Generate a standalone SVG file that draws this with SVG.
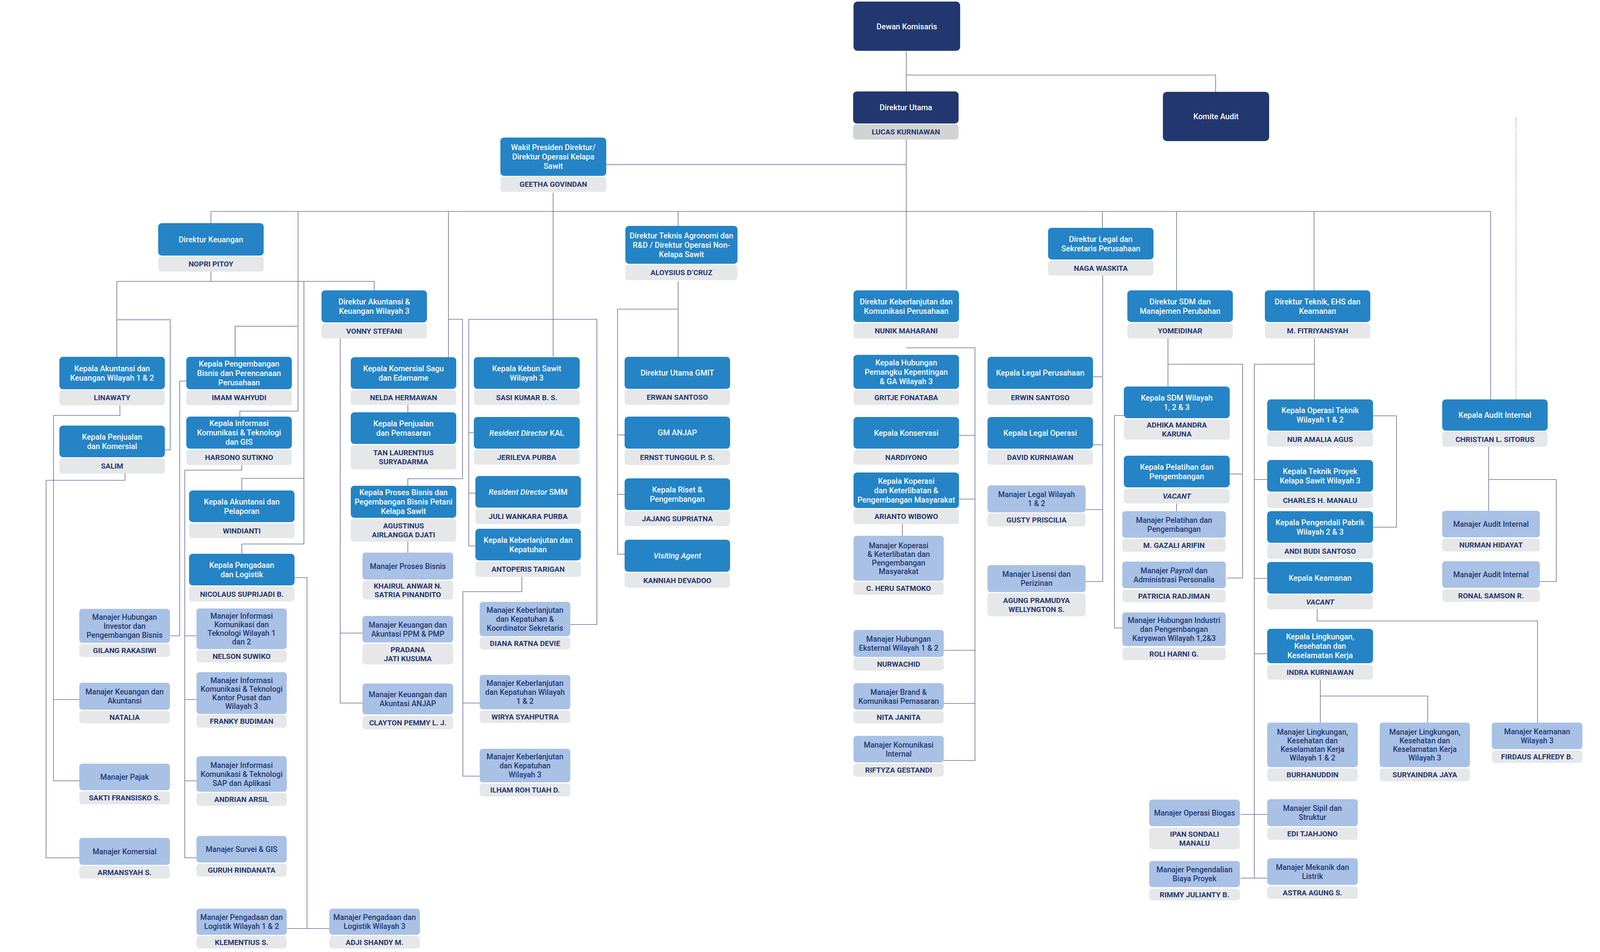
<svg xmlns="http://www.w3.org/2000/svg" width="4171" height="2436" viewBox="0 0 4171 2436">
<style>
.nv{fill:#223770}.bl{fill:#2484C6}.lb{fill:#A9C1E5}.nm{fill:#E6E7E9}.nm2{fill:#D1D3D4}
text{font-family:Roboto,"Liberation Sans",sans-serif;text-anchor:middle}
.w{fill:#fff;font-size:20px;font-weight:500}
.d{fill:#223770;font-size:19.5px;font-weight:500}
.n{fill:#223770;font-size:19px;font-weight:700}
.i{font-style:italic}
.c{fill:none;stroke:#6E6E98;stroke-width:1.6}
.c2{fill:none;stroke:#B2B3CF;stroke-width:3.5}
.dt{fill:none;stroke:#6E6E98;stroke-width:1.6;stroke-dasharray:2 3}
</style>
<rect width="4171" height="2436" fill="#fff"/>
<g id="connectors">
<path class="c" d="M2320,131V234M2320,192H3112V235M2320,357V741M540,541H3817M540,541V571"/>
<path class="c2" d="M1552,421H2320"/>
<path class="c" d="M763,541V1052H614V1066"/>
<path class="c2" d="M763,835H602V913"/>
<path class="c" d="M1148,541V914M1148,817H1184V1225H1044V1243"/>
<path class="c" d="M1416,493V913"/>
<path class="c" d="M1736,541V578M1736,719V913M1736,791H1581V1418H1599M1581,1265H1599"/>
<path class="c2" d="M1581,1113H1599"/>
<path class="c" d="M2822,541V583M3012,541V743M3364,541V743M3816,541V1022"/>
<path class="dt" d="M3881,300V1022"/>
<path class="c" d="M540,695V720M299,720H958V743M299,720V913"/>
<path class="c2" d="M299,818H436V1151H422"/>
<path class="c" d="M778,720V1392H619V1417M778,1224H619V1255"/>
<path class="c" d="M307,1037V1063H137V1998H203M137,1790H203"/>
<path class="c" d="M320,1212V1229H118V2195H203"/>
<path class="c" d="M477,975H460V1627H435"/>
<path class="c" d="M619,1190V1203H473V2195H503M473,1627H503M473,1790H503M473,1998H503"/>
<path class="c" d="M754,1478H786V2376M735,2376H843"/>
<path class="c" d="M871,866V1799H928M871,1620H928"/>
<path class="c2" d="M1044,1036V1055"/>
<path class="c" d="M1044,1386V1414"/>
<path class="c" d="M1213,1107H1200V817H1528V1598H1460M1200,1107V1397H1217M1200,1262H1217"/>
<path class="c" d="M1336,1476V1514H1185V1986H1228M1185,1799H1228"/>
<path class="c" d="M2320,890H2496V1946H2416M2455,1114H2496M2455,1277H2496M2416,1664H2496M2416,1800H2496"/>
<path class="c" d="M2310,1341V1371"/>
<path class="c" d="M2823,705V1488H2779M2798,1138H2823M2779,1304H2823"/>
<path class="c2" d="M2798,964H2823"/>
<path class="c" d="M2990,866V989M2990,932H3181V1479H3141M2877,1063H2853V1607H2873M3012,1288V1308"/>
<path class="c2" d="M3148,1213H3181"/>
<path class="c" d="M3365,866V1022M3211,932H3365M3211,932V2247H3176M3211,1227H3244M3211,1480H3244M3211,1673H3244M3176,2084H3244M3211,2247H3244"/>
<path class="c" d="M3515,1064H3575V1349H3515"/>
<path class="c" d="M3372,1559V1589H3936V1849M3380,1739V1849M3380,1781H3655V1849"/>
<path class="c" d="M3811,1143V1307M3811,1227H3984V1488H3942"/>
</g>

<g id="dewan-komisaris"><rect class="nv" x="2185" y="4" width="273" height="126" rx="10"/><text class="w" x="2321.5" y="75" font-size="21">Dewan Komisaris</text></g>
<g id="direktur-utama"><rect class="nv" x="2184" y="234" width="270" height="82" rx="9"/><text class="w" x="2319" y="282">Direktur Utama</text><rect class="nm2" x="2184" y="318" width="270" height="39" rx="8"/><text class="n" x="2319" y="344">LUCAS KURNIAWAN</text></g>
<g id="komite-audit"><rect class="nv" x="2977" y="235" width="272" height="126" rx="10"/><text class="w" x="3113" y="305" font-size="21">Komite Audit</text></g>

<g id="wakil-presiden"><rect class="bl" x="1281" y="352" width="271" height="98" rx="9"/><text class="w"><tspan x="1416.5" y="384">Wakil Presiden Direktur/</tspan><tspan x="1416.5" y="408">Direktur Operasi Kelapa</tspan><tspan x="1416.5" y="432">Sawit</tspan></text><rect class="nm" x="1281" y="452" width="271" height="39" rx="8"/><text class="n" x="1416.5" y="478">GEETHA GOVINDAN</text></g>

<g id="direktur-keuangan"><rect class="bl" x="405" y="571" width="270" height="83" rx="9"/><text class="w" x="540" y="620">Direktur Keuangan</text><rect class="nm" x="405" y="656" width="270" height="39" rx="8"/><text class="n" x="540" y="682">NOPRI PITOY</text></g>
<g id="kepala-akuntansi-w12"><rect class="bl" x="152" y="913" width="270" height="83" rx="9"/><text class="w"><tspan x="287" y="950">Kepala Akuntansi dan</tspan><tspan x="287" y="974">Keuangan Wilayah 1 &amp; 2</tspan></text><rect class="nm" x="152" y="998" width="270" height="39" rx="8"/><text class="n" x="287" y="1024">LINAWATY</text></g>
<g id="kepala-pengembangan-bisnis"><rect class="bl" x="477" y="913" width="270" height="83" rx="9"/><text class="w"><tspan x="612" y="938">Kepala Pengembangan</tspan><tspan x="612" y="962">Bisnis dan Perencanaan</tspan><tspan x="612" y="986">Perusahaan</tspan></text><rect class="nm" x="477" y="998" width="270" height="39" rx="8"/><text class="n" x="612" y="1024">IMAM WAHYUDI</text></g>
<g id="kepala-penjualan-komersial"><rect class="bl" x="152" y="1089" width="270" height="81" rx="9"/><text class="w"><tspan x="287" y="1125">Kepala Penjualan</tspan><tspan x="287" y="1149">dan Komersial</tspan></text><rect class="nm" x="152" y="1172" width="270" height="40" rx="8"/><text class="n" x="287" y="1199">SALIM</text></g>
<g id="kepala-ict-gis"><rect class="bl" x="477" y="1066" width="270" height="82" rx="9"/><text class="w"><tspan x="612" y="1090">Kepala Informasi</tspan><tspan x="612" y="1114">Komunikasi &amp; Teknologi</tspan><tspan x="612" y="1138">dan GIS</tspan></text><rect class="nm" x="477" y="1151" width="270" height="39" rx="8"/><text class="n" x="612" y="1177">HARSONO SUTIKNO</text></g>
<g id="kepala-akuntansi-pelaporan"><rect class="bl" x="484" y="1255" width="270" height="81" rx="9"/><text class="w"><tspan x="619" y="1291">Kepala Akuntansi dan</tspan><tspan x="619" y="1315">Pelaporan</tspan></text><rect class="nm" x="484" y="1339" width="270" height="38" rx="8"/><text class="n" x="619" y="1365">WINDIANTI</text></g>
<g id="kepala-pengadaan"><rect class="bl" x="484" y="1417" width="270" height="81" rx="9"/><text class="w"><tspan x="619" y="1453">Kepala Pengadaan</tspan><tspan x="619" y="1477">dan Logistik</tspan></text><rect class="nm" x="484" y="1501" width="270" height="38" rx="8"/><text class="n" x="619" y="1527">NICOLAUS SUPRIJADI B.</text></g>

<g id="manajer-hubungan-investor"><rect class="lb" x="203" y="1558" width="232" height="87" rx="8"/><text class="d"><tspan x="319" y="1585.5">Manajer Hubungan</tspan><tspan x="319" y="1608.5">Investor dan</tspan><tspan x="319" y="1631.5">Pengembangan Bisnis</tspan></text><rect class="nm" x="203" y="1648" width="232" height="33" rx="8"/><text class="n" x="319" y="1671">GILANG RAKASIWI</text></g>
<g id="manajer-keuangan-akuntansi"><rect class="lb" x="203" y="1747" width="232" height="69" rx="8"/><text class="d"><tspan x="319" y="1777">Manajer Keuangan dan</tspan><tspan x="319" y="1800">Akuntansi</tspan></text><rect class="nm" x="203" y="1819" width="232" height="32" rx="8"/><text class="n" x="319" y="1842">NATALIA</text></g>
<g id="manajer-pajak"><rect class="lb" x="203" y="1954" width="232" height="68" rx="8"/><text class="d" x="319" y="1995">Manajer Pajak</text><rect class="nm" x="203" y="2025" width="232" height="33" rx="8"/><text class="n" x="319" y="2048">SAKTI FRANSISKO S.</text></g>
<g id="manajer-komersial"><rect class="lb" x="203" y="2144" width="232" height="69" rx="8"/><text class="d" x="319" y="2185.5">Manajer Komersial</text><rect class="nm" x="203" y="2216" width="232" height="32" rx="8"/><text class="n" x="319" y="2239">ARMANSYAH S.</text></g>
<g id="manajer-ict-w12"><rect class="lb" x="503" y="1557" width="231" height="104" rx="8"/><text class="d"><tspan x="618.5" y="1583">Manajer Informasi</tspan><tspan x="618.5" y="1605">Komunikasi dan</tspan><tspan x="618.5" y="1627">Teknologi  Wilayah 1</tspan><tspan x="618.5" y="1649">dan 2</tspan></text><rect class="nm" x="503" y="1663" width="231" height="32" rx="8"/><text class="n" x="618.5" y="1686">NELSON SUWIKO</text></g>
<g id="manajer-ict-kp"><rect class="lb" x="503" y="1720" width="231" height="107" rx="8"/><text class="d"><tspan x="618.5" y="1747.5">Manajer Informasi</tspan><tspan x="618.5" y="1769.5">Komunikasi &amp; Teknologi</tspan><tspan x="618.5" y="1791.5">Kantor Pusat dan</tspan><tspan x="618.5" y="1813.5">Wilayah 3</tspan></text><rect class="nm" x="503" y="1829" width="231" height="33" rx="8"/><text class="n" x="618.5" y="1852">FRANKY BUDIMAN</text></g>
<g id="manajer-ict-sap"><rect class="lb" x="503" y="1935" width="231" height="91" rx="8"/><text class="d"><tspan x="618.5" y="1964.5">Manajer Informasi</tspan><tspan x="618.5" y="1987.5">Komunikasi &amp; Teknologi</tspan><tspan x="618.5" y="2010.5">SAP dan Aplikasi</tspan></text><rect class="nm" x="503" y="2029" width="231" height="33" rx="8"/><text class="n" x="618.5" y="2052">ANDRIAN ARSIL</text></g>
<g id="manajer-survei-gis"><rect class="lb" x="503" y="2139" width="231" height="68" rx="8"/><text class="d" x="618.5" y="2180">Manajer Survei &amp; GIS</text><rect class="nm" x="503" y="2210" width="231" height="33" rx="8"/><text class="n" x="618.5" y="2233">GURUH RINDANATA</text></g>
<g id="manajer-pengadaan-w12"><rect class="lb" x="503" y="2325" width="231" height="67" rx="8"/><text class="d"><tspan x="618.5" y="2354">Manajer Pengadaan dan</tspan><tspan x="618.5" y="2377">Logistik Wilayah 1 &amp; 2</tspan></text><rect class="nm" x="503" y="2395" width="231" height="32" rx="8"/><text class="n" x="618.5" y="2418">KLEMENTIUS S.</text></g>
<g id="manajer-pengadaan-w3"><rect class="lb" x="843" y="2325" width="232" height="67" rx="8"/><text class="d"><tspan x="959" y="2354">Manajer Pengadaan dan</tspan><tspan x="959" y="2377">Logistik Wilayah 3</tspan></text><rect class="nm" x="843" y="2395" width="232" height="32" rx="8"/><text class="n" x="959" y="2418">ADJI SHANDY M.</text></g>

<g id="direktur-akuntansi-w3"><rect class="bl" x="823" y="743" width="270" height="82" rx="9"/><text class="w"><tspan x="958" y="779">Direktur Akuntansi &amp;</tspan><tspan x="958" y="803">Keuangan Wilayah 3</tspan></text><rect class="nm" x="823" y="828" width="270" height="38" rx="8"/><text class="n" x="958" y="854">VONNY STEFANI</text></g>
<g id="kepala-komersial-sagu"><rect class="bl" x="898" y="914" width="270" height="81" rx="9"/><text class="w"><tspan x="1033" y="950">Kepala Komersial Sagu</tspan><tspan x="1033" y="974">dan Edamame</tspan></text><rect class="nm" x="898" y="998" width="270" height="38" rx="8"/><text class="n" x="1033" y="1024">NELDA HERMAWAN</text></g>
<g id="kepala-penjualan-pemasaran"><rect class="bl" x="898" y="1055" width="270" height="81" rx="9"/><text class="w"><tspan x="1033" y="1091">Kepala Penjualan</tspan><tspan x="1033" y="1115">dan Pemasaran</tspan></text><rect class="nm" x="898" y="1139" width="270" height="62" rx="8"/><text class="n"><tspan x="1033" y="1165">TAN LAURENTIUS</tspan><tspan x="1033" y="1188">SURYADARMA</tspan></text></g>
<g id="kepala-proses-bisnis"><rect class="bl" x="898" y="1243" width="270" height="82" rx="9"/><text class="w"><tspan x="1033" y="1267">Kepala Proses Bisnis dan</tspan><tspan x="1033" y="1291">Pegembangan Bisnis Petani</tspan><tspan x="1033" y="1315">Kelapa Sawit</tspan></text><rect class="nm" x="898" y="1328" width="270" height="58" rx="8"/><text class="n"><tspan x="1033" y="1352">AGUSTINUS</tspan><tspan x="1033" y="1375">AIRLANGGA DJATI</tspan></text></g>
<g id="manajer-proses-bisnis"><rect class="lb" x="928" y="1414" width="232" height="69" rx="8"/><text class="d" x="1044" y="1455.5">Manajer Proses Bisnis</text><rect class="nm" x="928" y="1486" width="232" height="48" rx="8"/><text class="n"><tspan x="1044" y="1506">KHAIRUL ANWAR N.</tspan><tspan x="1044" y="1528">SATRIA PINANDITO</tspan></text></g>
<g id="manajer-keuangan-ppm"><rect class="lb" x="928" y="1576" width="232" height="68" rx="8"/><text class="d"><tspan x="1044" y="1605.5">Manajer Keuangan dan</tspan><tspan x="1044" y="1628.5">Akuntasi PPM &amp; PMP</tspan></text><rect class="nm" x="928" y="1647" width="232" height="53" rx="8"/><text class="n"><tspan x="1044" y="1669">PRADANA</tspan><tspan x="1044" y="1692">JATI KUSUMA</tspan></text></g>
<g id="manajer-keuangan-anjap"><rect class="lb" x="928" y="1749" width="232" height="79" rx="8"/><text class="d"><tspan x="1044" y="1784">Manajer Keuangan dan</tspan><tspan x="1044" y="1807">Akuntasi ANJAP</tspan></text><rect class="nm" x="928" y="1832" width="232" height="34" rx="8"/><text class="n" x="1044" y="1856">CLAYTON PEMMY L. J.</text></g>

<g id="kepala-kebun-sawit"><rect class="bl" x="1213" y="914" width="271" height="81" rx="9"/><text class="w"><tspan x="1348.5" y="950">Kepala Kebun Sawit</tspan><tspan x="1348.5" y="974">Wilayah 3</tspan></text><rect class="nm" x="1213" y="998" width="271" height="38" rx="8"/><text class="n" x="1348.5" y="1024">SASI KUMAR B. S.</text></g>
<g id="rd-kal"><rect class="bl" x="1213" y="1067" width="271" height="81" rx="9"/><text class="w" x="1348.5" y="1114.5"><tspan class="i">Resident Director</tspan> KAL</text><rect class="nm" x="1213" y="1151" width="271" height="38" rx="8"/><text class="n" x="1348.5" y="1177">JERILEVA PURBA</text></g>
<g id="rd-smm"><rect class="bl" x="1217" y="1218" width="270" height="81" rx="9"/><text class="w" x="1352" y="1265.5"><tspan class="i">Resident Director</tspan> SMM</text><rect class="nm" x="1217" y="1302" width="270" height="39" rx="8"/><text class="n" x="1352" y="1328">JULI WANKARA PURBA</text></g>
<g id="kepala-keberlanjutan"><rect class="bl" x="1217" y="1353" width="270" height="81" rx="9"/><text class="w"><tspan x="1352" y="1389">Kepala Keberlanjutan dan</tspan><tspan x="1352" y="1413">Kepatuhan</tspan></text><rect class="nm" x="1217" y="1437" width="270" height="39" rx="8"/><text class="n" x="1352" y="1463">ANTOPERIS TARIGAN</text></g>
<g id="manajer-keberlanjutan-koord"><rect class="lb" x="1228" y="1540" width="232" height="88" rx="8"/><text class="d"><tspan x="1344" y="1568">Manajer Keberlanjutan</tspan><tspan x="1344" y="1591">dan Kepatuhan &amp;</tspan><tspan x="1344" y="1614">Koordinator Sekretaris</tspan></text><rect class="nm" x="1228" y="1630" width="232" height="32" rx="8"/><text class="n" x="1344" y="1653">DIANA RATNA DEVIE</text></g>
<g id="manajer-keberlanjutan-w12"><rect class="lb" x="1228" y="1727" width="232" height="88" rx="8"/><text class="d"><tspan x="1344" y="1755">Manajer Keberlanjutan</tspan><tspan x="1344" y="1778">dan Kepatuhan Wilayah</tspan><tspan x="1344" y="1801">1 &amp; 2</tspan></text><rect class="nm" x="1228" y="1818" width="232" height="32" rx="8"/><text class="n" x="1344" y="1841">WIRYA SYAHPUTRA</text></g>
<g id="manajer-keberlanjutan-w3"><rect class="lb" x="1228" y="1916" width="232" height="86" rx="8"/><text class="d"><tspan x="1344" y="1943">Manajer Keberlanjutan</tspan><tspan x="1344" y="1966">dan Kepatuhan</tspan><tspan x="1344" y="1989">Wilayah 3</tspan></text><rect class="nm" x="1228" y="2005" width="232" height="33" rx="8"/><text class="n" x="1344" y="2028">ILHAM ROH TUAH D.</text></g>

<g id="direktur-teknis-agronomi"><rect class="bl" x="1601" y="578" width="287" height="97" rx="9"/><text class="w"><tspan x="1744.5" y="610">Direktur Teknis Agronomi dan</tspan><tspan x="1744.5" y="634">R&amp;D / Direktur Operasi Non-</tspan><tspan x="1744.5" y="658">Kelapa Sawit</tspan></text><rect class="nm" x="1601" y="678" width="287" height="39" rx="8"/><text class="n" x="1744.5" y="704">ALOYSIUS D’CRUZ</text></g>
<g id="direktur-utama-gmit"><rect class="bl" x="1599" y="913" width="270" height="82" rx="9"/><text class="w" x="1734" y="961">Direktur Utama GMIT</text><rect class="nm" x="1599" y="997" width="270" height="39" rx="8"/><text class="n" x="1734" y="1023">ERWAN SANTOSO</text></g>
<g id="gm-anjap"><rect class="bl" x="1599" y="1066" width="270" height="82" rx="9"/><text class="w" x="1734" y="1114">GM ANJAP</text><rect class="nm" x="1599" y="1151" width="270" height="39" rx="8"/><text class="n" x="1734" y="1177">ERNST TUNGGUL P. S.</text></g>
<g id="kepala-riset"><rect class="bl" x="1599" y="1224" width="270" height="81" rx="9"/><text class="w"><tspan x="1734" y="1260">Kepala Riset &amp;</tspan><tspan x="1734" y="1284">Pengembangan</tspan></text><rect class="nm" x="1599" y="1308" width="270" height="38" rx="8"/><text class="n" x="1734" y="1334">JAJANG SUPRIATNA</text></g>
<g id="visiting-agent"><rect class="bl" x="1599" y="1381" width="270" height="82" rx="9"/><text class="w i" x="1734" y="1429">Visiting Agent</text><rect class="nm" x="1599" y="1466" width="270" height="38" rx="8"/><text class="n" x="1734" y="1492">KANNIAH DEVADOO</text></g>

<g id="direktur-keberlanjutan"><rect class="bl" x="2185" y="743" width="270" height="81" rx="9"/><text class="w"><tspan x="2320" y="779">Direktur Keberlanjutan dan</tspan><tspan x="2320" y="803">Komunikasi Perusahaan</tspan></text><rect class="nm" x="2185" y="827" width="270" height="39" rx="8"/><text class="n" x="2320" y="853">NUNIK MAHARANI</text></g>
<g id="kepala-hubungan-pemangku"><rect class="bl" x="2185" y="908" width="270" height="87" rx="9"/><text class="w"><tspan x="2320" y="935">Kepala Hubungan</tspan><tspan x="2320" y="959">Pemangku Kepentingan</tspan><tspan x="2320" y="983">&amp; GA Wilayah 3</tspan></text><rect class="nm" x="2185" y="998" width="270" height="38" rx="8"/><text class="n" x="2320" y="1024">GRITJE FONATABA</text></g>
<g id="kepala-konservasi"><rect class="bl" x="2185" y="1067" width="270" height="81" rx="9"/><text class="w" x="2320" y="1114.5">Kepala Konservasi</text><rect class="nm" x="2185" y="1151" width="270" height="38" rx="8"/><text class="n" x="2320" y="1177">NARDIYONO</text></g>
<g id="kepala-koperasi"><rect class="bl" x="2185" y="1209" width="270" height="91" rx="9"/><text class="w"><tspan x="2320" y="1238">Kepala Koperasi</tspan><tspan x="2320" y="1262">dan Keterlibatan &amp;</tspan><tspan x="2320" y="1286">Pengembangan Masyarakat</tspan></text><rect class="nm" x="2185" y="1302" width="270" height="39" rx="8"/><text class="n" x="2320" y="1328">ARIANTO WIBOWO</text></g>
<g id="manajer-koperasi"><rect class="lb" x="2185" y="1371" width="231" height="115" rx="8"/><text class="d"><tspan x="2300.5" y="1402.5">Manajer Koperasi</tspan><tspan x="2300.5" y="1424.5">&amp; Keterlibatan dan</tspan><tspan x="2300.5" y="1446.5">Pengembangan</tspan><tspan x="2300.5" y="1468.5">Masyarakat</tspan></text><rect class="nm" x="2185" y="1489" width="231" height="33" rx="8"/><text class="n" x="2300.5" y="1512">C. HERU SATMOKO</text></g>
<g id="manajer-hubungan-eksternal"><rect class="lb" x="2185" y="1612" width="231" height="69" rx="8"/><text class="d"><tspan x="2300.5" y="1642">Manajer Hubungan</tspan><tspan x="2300.5" y="1665">Eksternal Wilayah 1 &amp; 2</tspan></text><rect class="nm" x="2185" y="1683" width="231" height="33" rx="8"/><text class="n" x="2300.5" y="1706">NURWACHID</text></g>
<g id="manajer-brand"><rect class="lb" x="2185" y="1748" width="231" height="68" rx="8"/><text class="d"><tspan x="2300.5" y="1777.5">Manajer Brand &amp;</tspan><tspan x="2300.5" y="1800.5">Komunikasi Pemasaran</tspan></text><rect class="nm" x="2185" y="1819" width="231" height="32" rx="8"/><text class="n" x="2300.5" y="1842">NITA JANITA</text></g>
<g id="manajer-komunikasi-internal"><rect class="lb" x="2185" y="1883" width="231" height="68" rx="8"/><text class="d"><tspan x="2300.5" y="1912.5">Manajer Komunikasi</tspan><tspan x="2300.5" y="1935.5">Internal</tspan></text><rect class="nm" x="2185" y="1954" width="231" height="33" rx="8"/><text class="n" x="2300.5" y="1977">RIFTYZA GESTANDI</text></g>

<g id="direktur-legal"><rect class="bl" x="2683" y="583" width="270" height="81" rx="9"/><text class="w"><tspan x="2818" y="619">Direktur Legal dan</tspan><tspan x="2818" y="643">Sekretaris Perusahaan</tspan></text><rect class="nm" x="2683" y="667" width="270" height="38" rx="8"/><text class="n" x="2818" y="693">NAGA WASKITA</text></g>
<g id="kepala-legal-perusahaan"><rect class="bl" x="2528" y="913" width="270" height="82" rx="9"/><text class="w" x="2663" y="961">Kepala Legal Perusahaan</text><rect class="nm" x="2528" y="998" width="270" height="38" rx="8"/><text class="n" x="2663" y="1024">ERWIN SANTOSO</text></g>
<g id="kepala-legal-operasi"><rect class="bl" x="2528" y="1067" width="270" height="81" rx="9"/><text class="w" x="2663" y="1114.5">Kepala Legal Operasi</text><rect class="nm" x="2528" y="1151" width="270" height="38" rx="8"/><text class="n" x="2663" y="1177">DAVID KURNIAWAN</text></g>
<g id="manajer-legal-w12"><rect class="lb" x="2528" y="1242" width="251" height="69" rx="8"/><text class="d"><tspan x="2653.5" y="1272">Manajer Legal Wilayah</tspan><tspan x="2653.5" y="1295">1 &amp; 2</tspan></text><rect class="nm" x="2528" y="1313" width="251" height="34" rx="8"/><text class="n" x="2653.5" y="1337">GUSTY PRISCILIA</text></g>
<g id="manajer-lisensi"><rect class="lb" x="2528" y="1446" width="251" height="69" rx="8"/><text class="d"><tspan x="2653.5" y="1476">Manajer Lisensi dan</tspan><tspan x="2653.5" y="1499">Perizinan</tspan></text><rect class="nm" x="2528" y="1518" width="251" height="59" rx="8"/><text class="n"><tspan x="2653.5" y="1543">AGUNG PRAMUDYA</tspan><tspan x="2653.5" y="1566">WELLYNGTON S.</tspan></text></g>

<g id="direktur-sdm"><rect class="bl" x="2886" y="743" width="270" height="81" rx="9"/><text class="w"><tspan x="3021" y="779">Direktur SDM dan</tspan><tspan x="3021" y="803">Manajemen Perubahan</tspan></text><rect class="nm" x="2886" y="827" width="270" height="39" rx="8"/><text class="n" x="3021" y="853">YOMEIDINAR</text></g>
<g id="kepala-sdm"><rect class="bl" x="2877" y="989" width="271" height="81" rx="9"/><text class="w"><tspan x="3012.5" y="1025">Kepala SDM Wilayah</tspan><tspan x="3012.5" y="1049">1, 2 &amp; 3</tspan></text><rect class="nm" x="2877" y="1073" width="271" height="52" rx="8"/><text class="n"><tspan x="3012.5" y="1094">ADHIKA MANDRA</tspan><tspan x="3012.5" y="1117">KARUNA</tspan></text></g>
<g id="kepala-pelatihan"><rect class="bl" x="2877" y="1166" width="271" height="81" rx="9"/><text class="w"><tspan x="3012.5" y="1202">Kepala Pelatihan dan</tspan><tspan x="3012.5" y="1226">Pengembangan</tspan></text><rect class="nm" x="2877" y="1251" width="271" height="37" rx="8"/><text class="n i" x="3012.5" y="1276">VACANT</text></g>
<g id="manajer-pelatihan"><rect class="lb" x="2873" y="1308" width="265" height="68" rx="8"/><text class="d"><tspan x="3005.5" y="1337.5">Manajer Pelatihan dan</tspan><tspan x="3005.5" y="1360.5">Pengembangan</tspan></text><rect class="nm" x="2873" y="1379" width="265" height="33" rx="8"/><text class="n" x="3005.5" y="1402">M. GAZALI ARIFIN</text></g>
<g id="manajer-payroll"><rect class="lb" x="2873" y="1437" width="265" height="68" rx="8"/><text class="d"><tspan x="3005.5" y="1466.5">Manajer <tspan class="i">Payroll</tspan> dan</tspan><tspan x="3005.5" y="1489.5">Administrasi Personalia</tspan></text><rect class="nm" x="2873" y="1509" width="265" height="32" rx="8"/><text class="n" x="3005.5" y="1532">PATRICIA RADJIMAN</text></g>
<g id="manajer-hubungan-industri"><rect class="lb" x="2873" y="1567" width="265" height="86" rx="8"/><text class="d"><tspan x="3005.5" y="1594">Manajer Hubungan Industri</tspan><tspan x="3005.5" y="1617">dan Pengembangan</tspan><tspan x="3005.5" y="1640">Karyawan Wilayah 1,2&amp;3</tspan></text><rect class="nm" x="2873" y="1657" width="265" height="32" rx="8"/><text class="n" x="3005.5" y="1680">ROLI HARNI G.</text></g>
<g id="manajer-operasi-biogas"><rect class="lb" x="2942" y="2046" width="232" height="68" rx="8"/><text class="d" x="3058" y="2087">Manajer Operasi Biogas</text><rect class="nm" x="2942" y="2118" width="232" height="55" rx="8"/><text class="n"><tspan x="3058" y="2141">IPAN SONDALI</tspan><tspan x="3058" y="2164">MANALU</tspan></text></g>
<g id="manajer-pengendalian-biaya"><rect class="lb" x="2942" y="2203" width="232" height="67" rx="8"/><text class="d"><tspan x="3058" y="2232">Manajer Pengendalian</tspan><tspan x="3058" y="2255">Biaya Proyek</tspan></text><rect class="nm" x="2942" y="2274" width="232" height="30" rx="8"/><text class="n" x="3058" y="2296">RIMMY JULIANTY B.</text></g>

<g id="direktur-teknik"><rect class="bl" x="3238" y="743" width="270" height="81" rx="9"/><text class="w"><tspan x="3373" y="779">Direktur Teknik, EHS dan</tspan><tspan x="3373" y="803">Keamanan</tspan></text><rect class="nm" x="3238" y="827" width="270" height="39" rx="8"/><text class="n" x="3373" y="853">M. FITRIYANSYAH</text></g>
<g id="kepala-operasi-teknik"><rect class="bl" x="3244" y="1022" width="271" height="80" rx="9"/><text class="w"><tspan x="3379.5" y="1057">Kepala Operasi Teknik</tspan><tspan x="3379.5" y="1081">Wilayah 1 &amp; 2</tspan></text><rect class="nm" x="3244" y="1105" width="271" height="38" rx="8"/><text class="n" x="3379.5" y="1131">NUR AMALIA AGUS</text></g>
<g id="kepala-teknik-proyek"><rect class="bl" x="3244" y="1177" width="271" height="81" rx="9"/><text class="w"><tspan x="3379.5" y="1213">Kepala Teknik Proyek</tspan><tspan x="3379.5" y="1237">Kelapa Sawit Wilayah 3</tspan></text><rect class="nm" x="3244" y="1261" width="271" height="39" rx="8"/><text class="n" x="3379.5" y="1287">CHARLES H. MANALU</text></g>
<g id="kepala-pengendali-pabrik"><rect class="bl" x="3244" y="1308" width="271" height="81" rx="9"/><text class="w"><tspan x="3379.5" y="1344">Kepala Pengendali Pabrik</tspan><tspan x="3379.5" y="1368">Wilayah 2 &amp; 3</tspan></text><rect class="nm" x="3244" y="1391" width="271" height="39" rx="8"/><text class="n" x="3379.5" y="1417">ANDI BUDI SANTOSO</text></g>
<g id="kepala-keamanan"><rect class="bl" x="3244" y="1438" width="271" height="81" rx="9"/><text class="w" x="3379.5" y="1485.5">Kepala Keamanan</text><rect class="nm" x="3244" y="1522" width="271" height="37" rx="8"/><text class="n i" x="3379.5" y="1547">VACANT</text></g>
<g id="kepala-lk3"><rect class="bl" x="3244" y="1609" width="271" height="88" rx="9"/><text class="w"><tspan x="3379.5" y="1636">Kepala Lingkungan,</tspan><tspan x="3379.5" y="1660">Kesehatan dan</tspan><tspan x="3379.5" y="1684">Keselamatan Kerja</tspan></text><rect class="nm" x="3244" y="1701" width="271" height="38" rx="8"/><text class="n" x="3379.5" y="1727">INDRA KURNIAWAN</text></g>
<g id="manajer-lk3-w12"><rect class="lb" x="3244" y="1849" width="232" height="114" rx="8"/><text class="d"><tspan x="3360" y="1880">Manajer Lingkungan,</tspan><tspan x="3360" y="1902">Kesehatan dan</tspan><tspan x="3360" y="1924">Keselamatan Kerja</tspan><tspan x="3360" y="1946">Wilayah 1 &amp; 2</tspan></text><rect class="nm" x="3244" y="1966" width="232" height="33" rx="8"/><text class="n" x="3360" y="1989">BURHANUDDIN</text></g>
<g id="manajer-lk3-w3"><rect class="lb" x="3532" y="1849" width="231" height="114" rx="8"/><text class="d"><tspan x="3647.5" y="1880">Manajer Lingkungan,</tspan><tspan x="3647.5" y="1902">Kesehatan dan</tspan><tspan x="3647.5" y="1924">Keselamatan Kerja</tspan><tspan x="3647.5" y="1946">Wilayah 3</tspan></text><rect class="nm" x="3532" y="1966" width="231" height="33" rx="8"/><text class="n" x="3647.5" y="1989">SURYAINDRA JAYA</text></g>
<g id="manajer-keamanan-w3"><rect class="lb" x="3819" y="1849" width="232" height="68" rx="8"/><text class="d"><tspan x="3935" y="1878.5">Manajer Keamanan</tspan><tspan x="3935" y="1901.5">Wilayah 3</tspan></text><rect class="nm" x="3819" y="1920" width="232" height="32" rx="8"/><text class="n" x="3935" y="1943">FIRDAUS ALFREDY B.</text></g>
<g id="manajer-sipil"><rect class="lb" x="3244" y="2045" width="232" height="69" rx="8"/><text class="d"><tspan x="3360" y="2075">Manajer Sipil dan</tspan><tspan x="3360" y="2098">Struktur</tspan></text><rect class="nm" x="3244" y="2117" width="232" height="32" rx="8"/><text class="n" x="3360" y="2140">EDI TJAHJONO</text></g>
<g id="manajer-mekanik"><rect class="lb" x="3244" y="2196" width="232" height="68" rx="8"/><text class="d"><tspan x="3360" y="2225.5">Manajer Mekanik dan</tspan><tspan x="3360" y="2248.5">Listrik</tspan></text><rect class="nm" x="3244" y="2268" width="232" height="32" rx="8"/><text class="n" x="3360" y="2291">ASTRA AGUNG S.</text></g>

<g id="kepala-audit-internal"><rect class="bl" x="3692" y="1022" width="270" height="80" rx="9"/><text class="w" x="3827" y="1069">Kepala Audit Internal</text><rect class="nm" x="3692" y="1105" width="270" height="38" rx="8"/><text class="n" x="3827" y="1131">CHRISTIAN L. SITORUS</text></g>
<g id="manajer-audit-internal-1"><rect class="lb" x="3692" y="1307" width="250" height="68" rx="8"/><text class="d" x="3817" y="1348">Manajer Audit Internal</text><rect class="nm" x="3692" y="1378" width="250" height="33" rx="8"/><text class="n" x="3817" y="1401">NURMAN HIDAYAT</text></g>
<g id="manajer-audit-internal-2"><rect class="lb" x="3692" y="1436" width="250" height="68" rx="8"/><text class="d" x="3817" y="1477">Manajer Audit Internal</text><rect class="nm" x="3692" y="1508" width="250" height="32" rx="8"/><text class="n" x="3817" y="1531">RONAL SAMSON R.</text></g>
</svg>
